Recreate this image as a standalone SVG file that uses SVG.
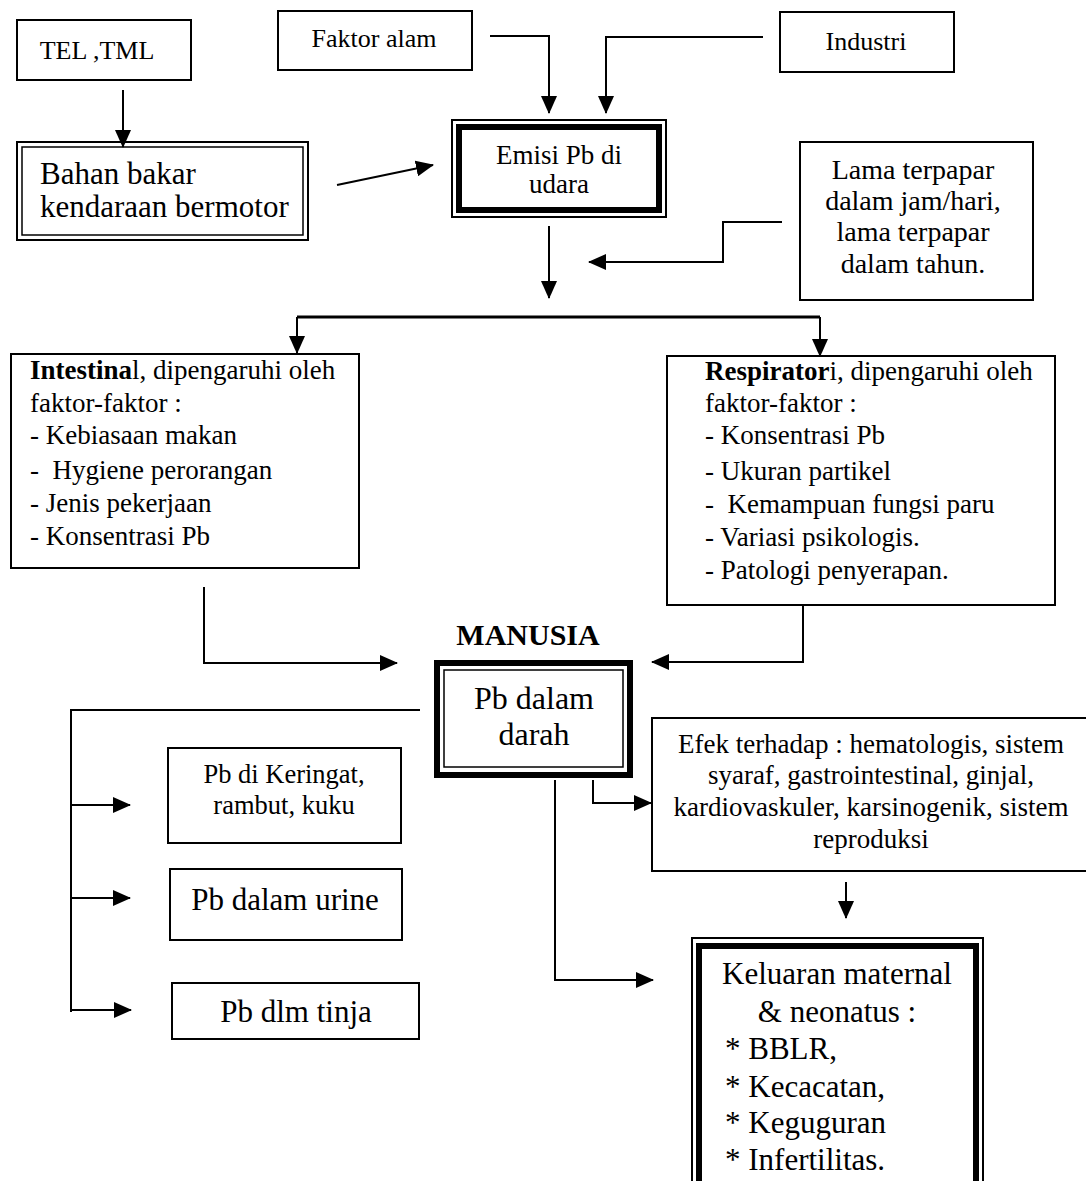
<svg xmlns="http://www.w3.org/2000/svg" width="1086" height="1181" viewBox="0 0 1086 1181">
<defs>
<marker id="ah" markerUnits="userSpaceOnUse" markerWidth="18" markerHeight="16" refX="17" refY="8" orient="auto">
<path d="M0,0 L18,8 L0,16 Z" fill="#000"/>
</marker>
<style>
text{font-family:"Liberation Serif","Times New Roman",serif;fill:#000}
.box{fill:#fff;stroke:#000;stroke-width:2}
.thin{fill:none;stroke:#000;stroke-width:1.5}
.thick{fill:none;stroke:#000;stroke-width:6}
.c{text-anchor:middle}
.con path,.con line{fill:none;stroke:#000;stroke-width:2}
.arr{marker-end:url(#ah)}
</style>
</defs>
<rect width="1086" height="1181" fill="#fff"/>

<g id="tel">
<rect class="box" x="17" y="20" width="174" height="60"/>
<text class="c" x="97" y="59" font-size="26">TEL ,TML</text>
</g>
<g id="faktor-alam">
<rect class="box" x="278" y="11" width="194" height="59"/>
<text class="c" x="374" y="47" font-size="26">Faktor alam</text>
</g>
<g id="industri">
<rect class="box" x="780" y="12" width="174" height="60"/>
<text class="c" x="866" y="50" font-size="26">Industri</text>
</g>
<g id="bahan-bakar">
<rect class="box" x="17" y="142" width="291" height="98"/>
<rect class="thin" x="22" y="147" width="281" height="88"/>
<text x="40" y="184" font-size="31">Bahan bakar</text>
<text x="40" y="217" font-size="31">kendaraan bermotor</text>
</g>
<g id="emisi">
<rect class="box" x="452" y="120" width="214" height="97"/>
<rect class="thick" x="459" y="127" width="200" height="83"/>
<text class="c" x="559" y="164" font-size="27">Emisi Pb di</text>
<text class="c" x="559" y="193" font-size="27">udara</text>
</g>
<g id="lama">
<rect class="box" x="800" y="142" width="233" height="158"/>
<text class="c" x="913" y="179" font-size="28">Lama terpapar</text>
<text class="c" x="913" y="210" font-size="28">dalam jam/hari,</text>
<text class="c" x="913" y="241" font-size="28">lama terpapar</text>
<text class="c" x="913" y="273" font-size="28">dalam tahun.</text>
</g>
<g id="intestinal">
<rect class="box" x="11" y="354" width="348" height="214"/>
<text x="30" y="379" font-size="27"><tspan font-weight="bold">Intestina</tspan>l, dipengaruhi oleh</text>
<text x="30" y="412" font-size="27">faktor-faktor :</text>
<text x="30" y="444" font-size="27">- Kebiasaan makan</text>
<text x="30" y="479" font-size="27" style="white-space:pre">-  Hygiene perorangan</text>
<text x="30" y="512" font-size="27">- Jenis pekerjaan</text>
<text x="30" y="545" font-size="27">- Konsentrasi Pb</text>
</g>
<g id="respiratori">
<rect class="box" x="667" y="356" width="388" height="249"/>
<text x="705" y="380" font-size="27"><tspan font-weight="bold">Respirator</tspan>i, dipengaruhi oleh</text>
<text x="705" y="412" font-size="27">faktor-faktor :</text>
<text x="705" y="444" font-size="27">- Konsentrasi Pb</text>
<text x="705" y="480" font-size="27">- Ukuran partikel</text>
<text x="705" y="513" font-size="27" style="white-space:pre">-  Kemampuan fungsi paru</text>
<text x="705" y="546" font-size="27">- Variasi psikologis.</text>
<text x="705" y="579" font-size="27">- Patologi penyerapan.</text>
</g>
<g id="manusia-label">
<text class="c" x="528" y="645" font-size="30" font-weight="bold">MANUSIA</text>
</g>
<g id="pb-darah">
<rect x="437" y="663" width="193" height="112" fill="#fff" stroke="#000" stroke-width="6"/>
<rect class="thin" x="444" y="670" width="179" height="97"/>
<text class="c" x="534" y="709" font-size="32">Pb dalam</text>
<text class="c" x="534" y="745" font-size="32">darah</text>
</g>
<g id="keringat">
<rect class="box" x="168" y="748" width="233" height="95"/>
<text class="c" x="284" y="783" font-size="26.5">Pb di Keringat,</text>
<text class="c" x="284" y="814" font-size="26.5">rambut, kuku</text>
</g>
<g id="urine">
<rect class="box" x="170" y="869" width="232" height="71"/>
<text class="c" x="285" y="910" font-size="31">Pb dalam urine</text>
</g>
<g id="tinja">
<rect class="box" x="172" y="983" width="247" height="56"/>
<text class="c" x="296" y="1022" font-size="31">Pb dlm tinja</text>
</g>
<g id="efek">
<rect class="box" x="652" y="718" width="436" height="153"/>
<text class="c" x="871" y="753" font-size="27">Efek terhadap : hematologis, sistem</text>
<text class="c" x="871" y="784" font-size="27">syaraf, gastrointestinal, ginjal,</text>
<text class="c" x="871" y="816" font-size="27">kardiovaskuler, karsinogenik, sistem</text>
<text class="c" x="871" y="848" font-size="27">reproduksi</text>
</g>
<g id="keluaran">
<rect class="box" x="692" y="938" width="291" height="260"/>
<rect class="thick" x="699" y="946" width="277" height="250"/>
<text class="c" x="837" y="984" font-size="31">Keluaran maternal</text>
<text class="c" x="837" y="1022" font-size="31">&amp; neonatus :</text>
<text x="725" y="1059" font-size="31">* BBLR,</text>
<text x="725" y="1097" font-size="31">* Kecacatan,</text>
<text x="725" y="1133" font-size="31">* Keguguran</text>
<text x="725" y="1170" font-size="31">* Infertilitas.</text>
</g>

<g id="connectors" class="con">
<path class="arr" d="M123,90 V147"/>
<path class="arr" d="M337,185 L433,165"/>
<path class="arr" d="M490,36 H549 V113"/>
<path class="arr" d="M763,37 H606 V113"/>
<path class="arr" d="M549,226 V298"/>
<path class="arr" d="M782,222 H723 V262 H589"/>
<path d="M297,317 H820" style="stroke-width:3"/>
<path class="arr" d="M297,317 V353"/>
<path class="arr" d="M820,317 V356"/>
<path class="arr" d="M204,587 V663 H397"/>
<path class="arr" d="M803,605 V662 H652"/>
<path d="M420,710 H71 V1012"/>
<path class="arr" d="M71,805 H130"/>
<path class="arr" d="M71,898 H130"/>
<path class="arr" d="M71,1010 H131"/>
<path class="arr" d="M593,780 V803 H651"/>
<path class="arr" d="M555,780 V980 H653"/>
<path class="arr" d="M846,882 V918"/>
</g>
</svg>
